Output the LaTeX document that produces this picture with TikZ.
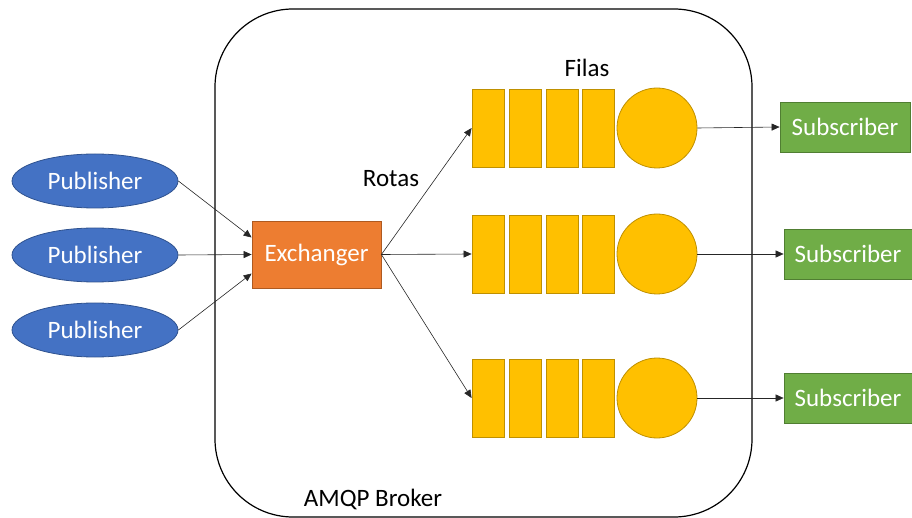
\documentclass[tikz,border=0pt]{standalone}
\usepackage{fontspec}
\setmainfont{Carlito}
\usetikzlibrary{arrows.meta,calc,shapes.geometric}

\definecolor{pubblue}{HTML}{4472C4}
\definecolor{pubedge}{HTML}{2F528F}
\definecolor{exorange}{HTML}{ED7D31}
\definecolor{exedge}{HTML}{AE5A21}
\definecolor{qyellow}{HTML}{FFC000}
\definecolor{qedge}{HTML}{BF9000}
\definecolor{subgreen}{HTML}{70AD47}
\definecolor{subedge}{HTML}{507E32}

\tikzset{
  pub/.style={ellipse, fill=pubblue, draw=pubedge, line width=0.8pt,
    minimum width=166pt, minimum height=54pt, inner sep=0pt, text=white},
  exch/.style={rectangle, fill=exorange, draw=exedge, line width=0.8pt,
    minimum width=129pt, minimum height=67pt, inner sep=0pt, text=white},
  slot/.style={rectangle, fill=qyellow, draw=qedge, line width=0.8pt,
    minimum width=32pt, minimum height=78pt, inner sep=0pt},
  qhead/.style={circle, fill=qyellow, draw=qedge, line width=0.8pt,
    minimum size=80pt, inner sep=0pt},
  sub/.style={rectangle, fill=subgreen, draw=subedge, line width=0.8pt,
    minimum height=50pt, inner sep=0pt, text=white},
  link/.style={-{Triangle[length=8pt,width=7pt]}, line width=0.6pt, draw=black!85},
  lbl/.style={inner sep=0pt, text=black}
}

\begin{document}
\begin{tikzpicture}[x=1pt, y=-1pt, font=\fontsize{25}{30}\selectfont]
\useasboundingbox (0,0) rectangle (912,518);

% broker container
\node[draw=black, line width=1.2pt, rounded corners=78pt,
      minimum width=537pt, minimum height=508pt, inner sep=0pt] (broker) at (483.5,263) {};

% labels
\node[lbl] (filas) at (587,68) {Filas};
\node[lbl] (rotas) at (391,179) {Rotas};
\node[lbl] (amqp) at (373,499) {AMQP Broker};

% publishers
\node[pub] (p1) at (95,181) {Publisher};
\node[pub] (p2) at (95,255) {Publisher};
\node[pub] (p3) at (95,330) {Publisher};

% exchanger
\node[exch] (ex) at (316.5,254.5) {Exchanger};

% queues
\foreach \r/\y in {1/128, 2/254, 3/398} {
  \node[slot] (q\r a) at (488,\y) {};
  \node[slot] (q\r b) at (525,\y) {};
  \node[slot] (q\r c) at (562,\y) {};
  \node[slot] (q\r d) at (598,\y) {};
  \node[qhead] (q\r h) at (657,\y) {};
}

% subscribers
\node[sub, minimum width=130pt] (s1) at (845,127) {Subscriber};
\node[sub, minimum width=128pt] (s2) at (848,254) {Subscriber};
\node[sub, minimum width=128pt] (s3) at (848,398) {Subscriber};

% publisher -> exchanger
\draw[link] (p1.east) -- ($(ex.west)+(0,-17)$);
\draw[link] (p2.east) -- (ex.west);
\draw[link] (p3.east) -- ($(ex.west)+(0,19)$);

% exchanger -> queues (routes)
\draw[link] (ex.east) -- (q1a.west);
\draw[link] (ex.east) -- (q2a.west);
\draw[link] (ex.east) -- (q3a.west);

% queues -> subscribers
\draw[link] (q1h.east) -- (s1.west);
\draw[link] (q2h.east) -- (s2.west);
\draw[link] (q3h.east) -- (s3.west);
\end{tikzpicture}
\end{document}
